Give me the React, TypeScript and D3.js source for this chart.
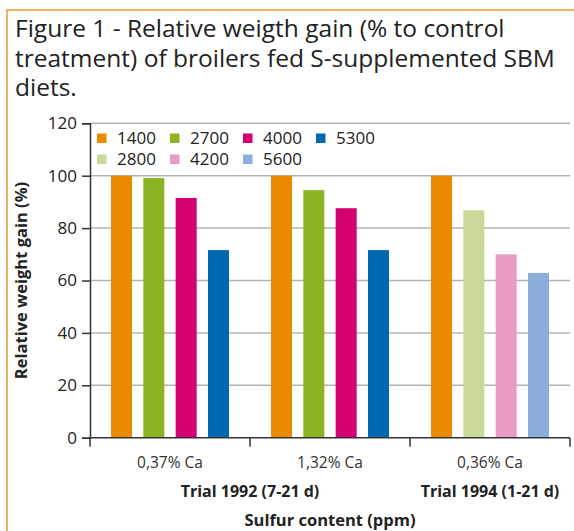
import React, { useEffect, useRef } from 'react';
import * as d3 from 'd3';

// Chart data
const categories: string[] = ['0,37% Ca', '1,32% Ca', '0,36% Ca'];
const sulfurLevels: string[][] = [
  ['1400', '2700', '4000', '5300'],
  ['1400', '2700', '4000', '5300'],
  ['1400', '2800', '4200', '5600'],
];
const gainValues: number[][] = [
  [100, 99.1, 91.5, 71.6],
  [100, 94.5, 87.6, 71.6],
  [100, 86.8, 70.0, 62.9],
];
const trials: { label: string; from: number; to: number }[] = [
  { label: 'Trial 1992 (7-21 d)', from: 0, to: 1 },
  { label: 'Trial 1994 (1-21 d)', from: 2, to: 2 },
];
const legendOrder: string[] = ['1400', '2700', '4000', '5300', '2800', '4200', '5600'];
const yTicks: number[] = [0, 20, 40, 60, 80, 100, 120];

const levelColors: Record<string, string> = {
  '1400': '#eb8b00',
  '2700': '#8db422',
  '4000': '#d4006f',
  '5300': '#0068b3',
  '2800': '#c9d998',
  '4200': '#e99bc2',
  '5600': '#8daedc',
};

const titleLines: string[] = [
  'Figure 1 - Relative weigth gain (% to control',
  'treatment) of broilers fed S-supplemented SBM',
  'diets.',
];

const FONT = '"Open Sans", "Noto Sans", sans-serif';

const App: React.FC = () => {
  const containerRef = useRef<HTMLDivElement | null>(null);

  useEffect(() => {
    if (!containerRef.current) return;
    document.body.style.margin = '0';
    containerRef.current.innerHTML = '';

    const width = 574;
    const height = 531;
    const margin = { top: 123.3, right: 4, bottom: 93.3, left: 90 };
    const graphWidth = width - margin.left - margin.right;
    const graphHeight = height - margin.top - margin.bottom;

    const svg = d3
      .select(containerRef.current)
      .append('svg')
      .attr('width', width)
      .attr('height', height)
      .style('display', 'block')
      .style('font-family', FONT);

    svg.append('rect').attr('width', width).attr('height', height).attr('fill', '#fff');

    // orange frame
    svg
      .append('rect')
      .attr('x', 7)
      .attr('y', 10)
      .attr('width', width + 20)
      .attr('height', height + 20)
      .attr('fill', 'none')
      .attr('stroke', '#e49a2e')
      .attr('stroke-width', 1.5);

    // title
    svg
      .append('g')
      .selectAll('text')
      .data(titleLines)
      .join('text')
      .attr('x', 15)
      .attr('y', (_d, i) => 37 + i * 29.5)
      .attr('font-size', 24.5)
      .attr('fill', '#222')
      .text((d) => d);

    const g = svg.append('g').attr('transform', `translate(${margin.left}, ${margin.top})`);

    const xScale = d3.scaleBand<number>().domain(d3.range(categories.length)).range([0, graphWidth]);
    const innerScale = d3
      .scaleBand<number>()
      .domain(d3.range(4))
      .range([0, xScale.bandwidth()])
      .paddingInner(0.35)
      .paddingOuter(0.65);
    const yScale = d3.scaleLinear().domain([0, 120]).range([graphHeight, 0]);

    // gridlines
    g.append('g')
      .selectAll('line')
      .data(yTicks.filter((t) => t > 0))
      .join('line')
      .attr('x1', 0)
      .attr('x2', graphWidth)
      .attr('y1', (d) => yScale(d))
      .attr('y2', (d) => yScale(d))
      .attr('stroke', '#b3b3b3')
      .attr('stroke-width', 1.5);

    // bars
    categories.forEach((_c, ci) => {
      g.append('g')
        .attr('transform', `translate(${xScale(ci)}, 0)`)
        .selectAll('rect')
        .data(gainValues[ci])
        .join('rect')
        .attr('x', (_d, i) => innerScale(i) as number)
        .attr('width', innerScale.bandwidth())
        .attr('y', (d) => yScale(d))
        .attr('height', (d) => graphHeight - yScale(d))
        .attr('fill', (_d, i) => levelColors[sulfurLevels[ci][i]]);
    });

    // y axis
    const yAxis = g.append('g').call(d3.axisLeft<number>(yScale).tickValues(yTicks).tickSize(8).tickPadding(5));
    yAxis.select('.domain').attr('stroke', '#333').attr('stroke-width', 1.5);
    yAxis.selectAll('.tick line').attr('stroke', '#333').attr('stroke-width', 1.5);
    yAxis
      .selectAll('.tick text')
      .attr('font-size', 17)
      .attr('font-family', FONT)
      .attr('fill', '#222');

    // x axis
    const xAxisG = g.append('g').attr('transform', `translate(0, ${graphHeight})`);
    xAxisG
      .append('line')
      .attr('x1', 0)
      .attr('x2', graphWidth)
      .attr('stroke', '#333')
      .attr('stroke-width', 1.5);
    xAxisG
      .selectAll('line.tick')
      .data(d3.range(categories.length + 1))
      .join('line')
      .attr('class', 'tick')
      .attr('x1', (d) => d * xScale.step())
      .attr('x2', (d) => d * xScale.step())
      .attr('y1', 0)
      .attr('y2', 9)
      .attr('stroke', '#333')
      .attr('stroke-width', 1.5);
    xAxisG
      .selectAll('text.cat')
      .data(categories)
      .join('text')
      .attr('class', 'cat')
      .attr('x', (_d, i) => (xScale(i) as number) + xScale.bandwidth() / 2)
      .attr('y', 30.5)
      .attr('text-anchor', 'middle')
      .attr('font-size', 15.5)
      .attr('fill', '#333')
      .text((d) => d);
    xAxisG
      .selectAll('text.trial')
      .data(trials)
      .join('text')
      .attr('class', 'trial')
      .attr('x', (d) => ((xScale(d.from) as number) + (xScale(d.to) as number) + xScale.bandwidth()) / 2)
      .attr('y', 59.5)
      .attr('text-anchor', 'middle')
      .attr('font-size', 16)
      .attr('font-weight', 'bold')
      .attr('fill', '#222')
      .text((d) => d.label);
    xAxisG
      .append('text')
      .attr('x', graphWidth / 2)
      .attr('y', 88)
      .attr('text-anchor', 'middle')
      .attr('font-size', 16.5)
      .attr('font-weight', 'bold')
      .attr('fill', '#222')
      .text('Sulfur content (ppm)');

    // y axis title
    g.append('text')
      .attr('transform', `translate(${26.5 - margin.left}, ${graphHeight / 2}) rotate(-90)`)
      .attr('text-anchor', 'middle')
      .attr('font-size', 16.5)
      .attr('font-weight', 'bold')
      .attr('fill', '#222')
      .text('Relative weight gain (%)');

    // legend
    const legend = svg.append('g').attr('transform', 'translate(97, 133.5)');
    const item = legend
      .selectAll('g')
      .data(legendOrder)
      .join('g')
      .attr('transform', (_d, i) => `translate(${(i % 4) * 73}, ${Math.floor(i / 4) * 21})`);
    item
      .append('rect')
      .attr('width', 9.5)
      .attr('height', 9.5)
      .attr('fill', (d) => levelColors[d]);
    item
      .append('text')
      .attr('x', 20)
      .attr('y', 10.5)
      .attr('font-size', 17)
      .attr('fill', '#222')
      .text((d) => d);
  }, []);

  return <div ref={containerRef} id="bar-graph-container" />;
};

export default App;
